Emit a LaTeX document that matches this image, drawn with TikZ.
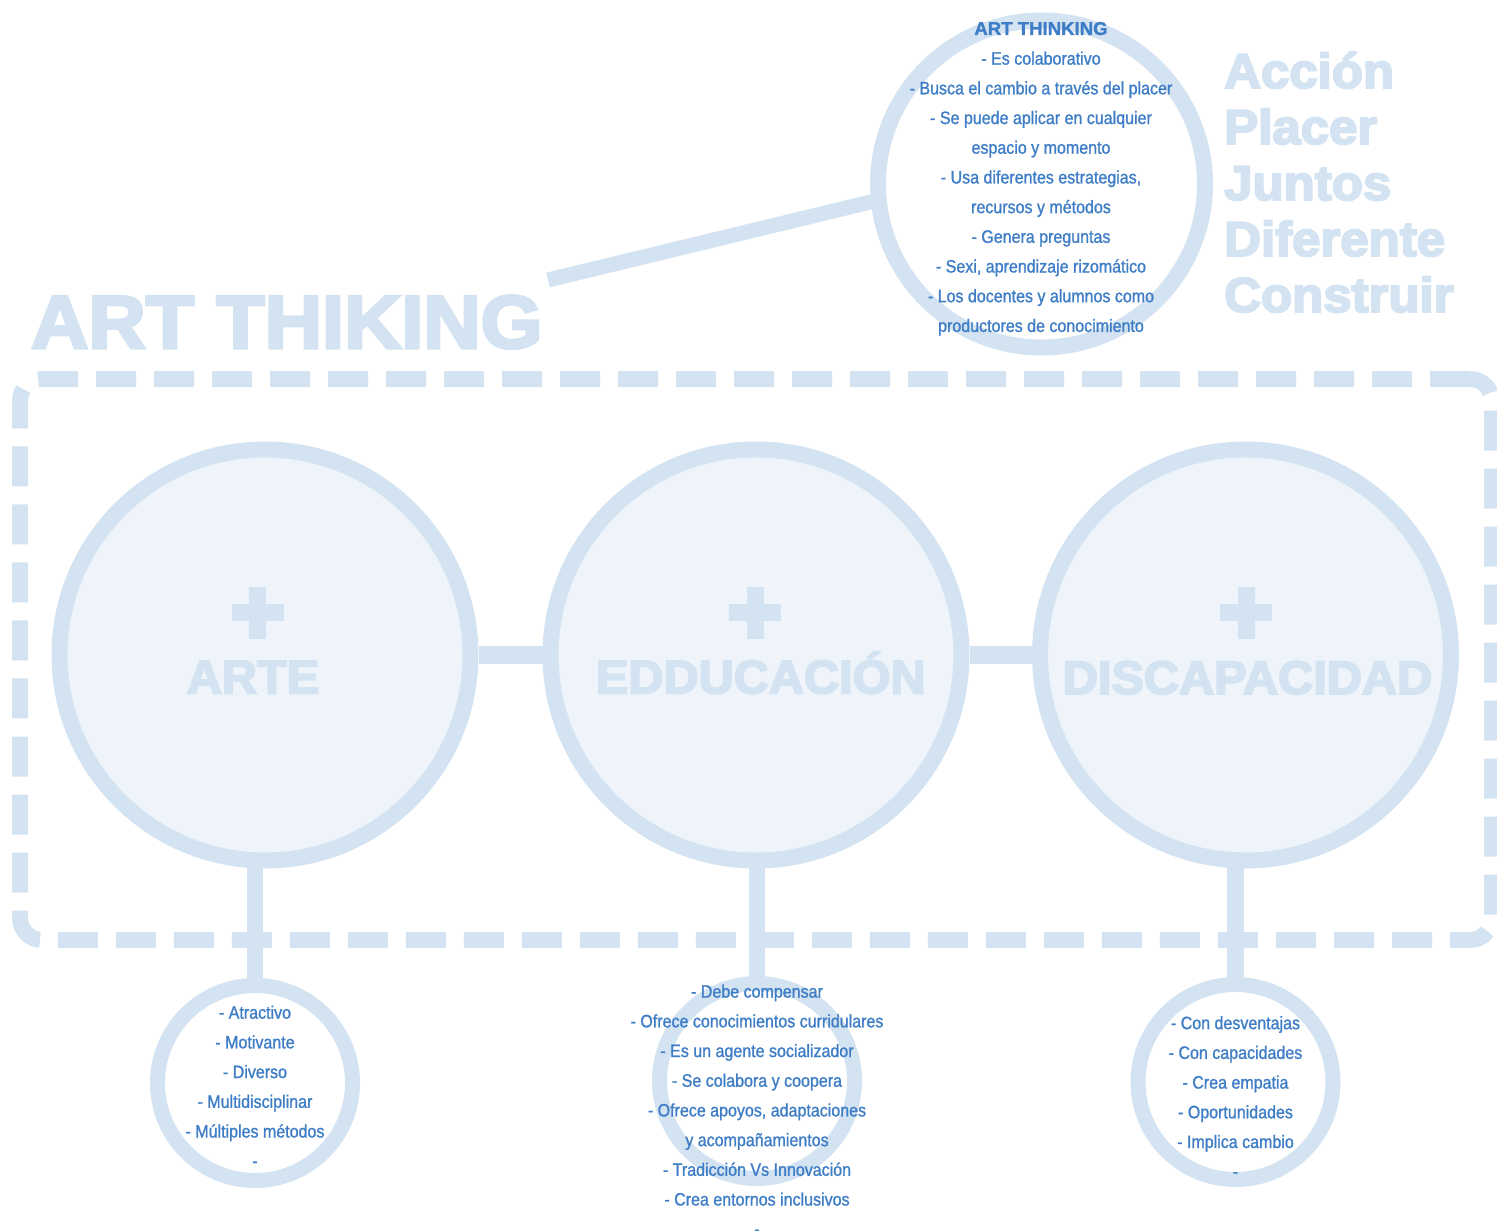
\documentclass[tikz,border=0pt]{standalone}
\usepackage{fontspec}
\usepackage{graphicx}
\setmainfont{Liberation Sans}
\newfontfamily\narrowfont[FakeStretch=0.89,FakeBold=1.2]{Liberation Sans}
\newfontfamily\heavyfont{Liberation Sans}[BoldFeatures={FakeBold=4}]
\newfontfamily\titlefont{Liberation Sans}[BoldFeatures={FakeBold=1.5}]
\definecolor{ringblue}{HTML}{D3E3F1}
\definecolor{fillblue}{HTML}{EEF4F9}
\definecolor{textblue}{HTML}{3F7EC6}
\tikzset{
  ring/.style={circle, draw=ringblue, inner sep=0pt},
  bigring/.style={ring, line width=16pt, fill=fillblue, minimum size=411pt},
  smallring/.style={ring, line width=15pt, minimum size=195pt},
  topring/.style={ring, line width=16pt, minimum size=327pt},
  bar/.style={draw=ringblue, line width=18pt},
  stem/.style={draw=ringblue, line width=16.5pt},
  link/.style={draw=ringblue, line width=15pt},
  framebox/.style={draw=ringblue, line width=16pt, rounded corners=22pt,
    dash pattern=on 40pt off 18pt, minimum width=1472pt, minimum height=561pt, inner sep=0pt},
  listtext/.style={text=textblue, font=\narrowfont\fontsize{18}{29.7}\selectfont, align=center, inner sep=0pt},
  heading/.style={text=ringblue, inner sep=0pt},
}
\newcommand{\hv}[3]{\scalebox{#2}[1]{\heavyfont\bfseries\fontsize{#1}{#1}\selectfont #3}}
\begin{document}
\begin{tikzpicture}[x=1pt,y=1pt]
\useasboundingbox (0,0) rectangle (1497,-1231);

% dashed frame
\node[framebox] (frame) at (756,-659.5) {};

% big circles
\node[bigring] (arte) at (265,-655) {};
\node[bigring] (educ) at (756,-655) {};
\node[bigring] (disc) at (1245.5,-655) {};

% small circles
\node[smallring] (arteS) at (255,-1083) {};
\node[smallring] (educS) at (757,-1081) {};
\node[smallring] (discS) at (1235.5,-1082) {};

% top circle
\node[topring] (topc) at (1041.5,-184) {};

% connectors
\draw[bar] (arte.east) -- (educ.west);
\draw[bar] (educ.east) -- (disc.west);
\draw[stem] ([yshift=-2]arteS.north) -- ([yshift=4]arteS.north |- arte.south);
\draw[stem] ([yshift=-2]educS.north) -- ([yshift=4]educS.north |- educ.south);
\draw[stem] ([yshift=-2]discS.north) -- ([yshift=4]discS.north |- disc.south);
\coordinate (linkend) at (548,-280);
\draw[link, shorten >=-6pt] (linkend) -- (topc.186);

% plus signs
\coordinate (plusA) at (257.5,-612.5);
\coordinate (plusE) at (755,-612.5);
\coordinate (plusD) at (1246,-612.5);
\foreach \p in {plusA,plusE,plusD}{
  \fill[ringblue] ([shift={(-26,-8.5)}]\p) rectangle ([shift={(26,8.5)}]\p);
  \fill[ringblue] ([shift={(-8.5,-26)}]\p) rectangle ([shift={(8.5,26)}]\p);
}

% big labels
\node[heading, anchor=base] (lblA) at (253,-693.3) {\hv{47}{1.035}{ARTE}};
\node[heading, anchor=base] (lblE) at (760.8,-693.3) {\hv{47}{1.035}{EDDUCACIÓN}};
\node[heading, anchor=base] (lblD) at (1247.5,-694) {\hv{47}{1.035}{DISCAPACIDAD}};

% title
\node[heading, anchor=base west] (title) at (31,-348) {\hv{75}{1.058}{ART THIKING}};

% right words
\node[heading, anchor=base west] (w1) at (1224,-88) {\hv{49}{1.04}{Acción}};
\node[heading, anchor=base west] (w2) at (1224,-144) {\hv{49}{1.04}{Placer}};
\node[heading, anchor=base west] (w3) at (1224,-200) {\hv{49}{1.04}{Juntos}};
\node[heading, anchor=base west] (w4) at (1224,-256) {\hv{49}{1.04}{Diferente}};
\node[heading, anchor=base west] (w5) at (1224,-312) {\hv{49}{1.04}{Construir}};

% list texts
\node[listtext] (topText) at (1041,-177.5) {\strut{\titlefont\bfseries\fontsize{18.6}{29.7}\selectfont ART THINKING}\\
- Es colaborativo\\
- Busca el cambio a través del placer\\
- Se puede aplicar en cualquier\\
espacio y momento\\
- Usa diferentes estrategias,\\
recursos y métodos\\
- Genera preguntas\\
- Sexi, aprendizaje rizomático\\
- Los docentes y alumnos como\\
productores de conocimiento\strut};

\node[listtext] (arteText) at (255,-1087) {\strut - Atractivo\\
- Motivante\\
- Diverso\\
- Multidisciplinar\\
- Múltiples métodos\\
-\strut};

\node[listtext] (educText) at (757,-1110.5) {\strut - Debe compensar\\
- Ofrece conocimientos curridulares\\
- Es un agente socializador\\
- Se colabora y coopera\\
- Ofrece apoyos, adaptaciones\\
y acompañamientos\\
- Tradicción Vs Innovación\\
- Crea entornos inclusivos\\
-\strut};

\node[listtext] (discText) at (1235.5,-1097.5) {\strut - Con desventajas\\
- Con capacidades\\
- Crea empatia\\
- Oportunidades\\
- Implica cambio\\
-\strut};
\end{tikzpicture}
\end{document}
